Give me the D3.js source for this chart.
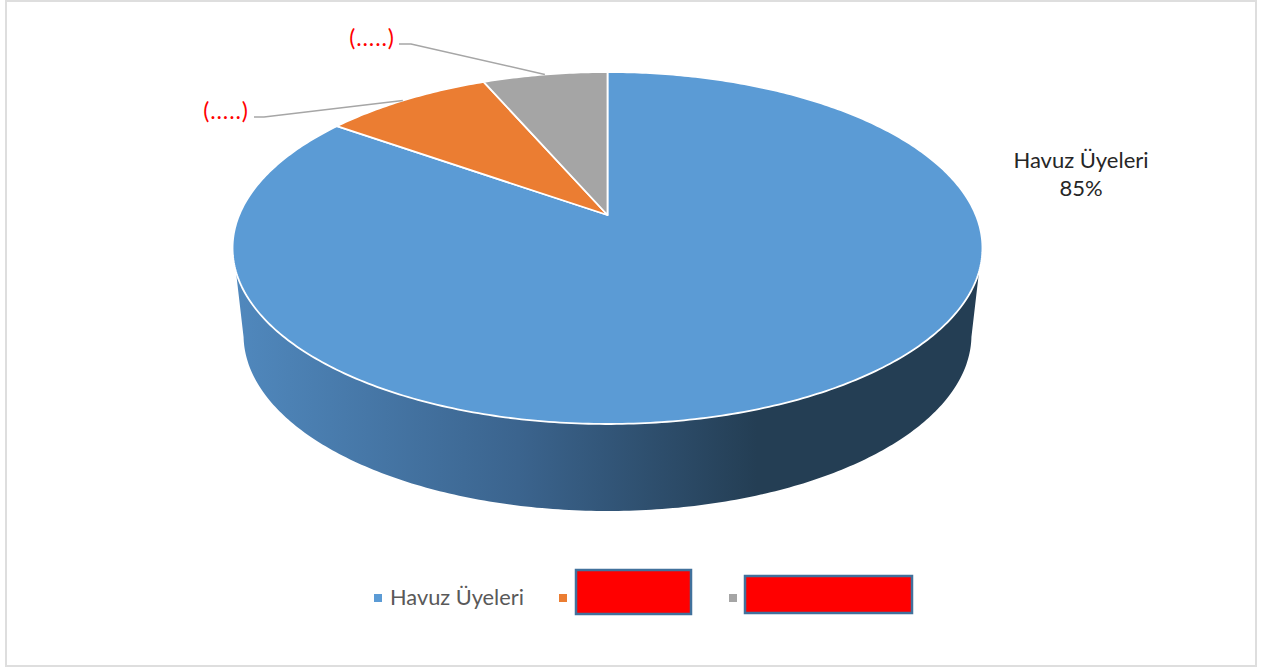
<!DOCTYPE html>
<html><head><meta charset="utf-8">
<script src="https://cdn.jsdelivr.net/npm/d3@7"></script>
<style>html,body{margin:0;padding:0;background:#fff}svg{display:block}text{font-family:Lato,"Open Sans",sans-serif}</style>
</head><body><svg id="c" width="1262" height="669"></svg>
<script>
const categories=["Havuz Üyeleri","(.....)","(.....)"];
const values=[84.85,8.7,6.45];
const colors=["#5B9BD5","#EB7D32","#A5A5A5"];
const sideStops=[["0%","#5088bd"],["38%","#3b648e"],["70%","#243e54"],["100%","#243e54"]];

const svg=d3.select("#c");
svg.append("rect").attr("x",6).attr("y",1).attr("width",1250).attr("height",665).attr("fill","#fff").attr("stroke","#dedede").attr("stroke-width",2);

// perspective projection of the pie's unit circle
const cx=607.5, apexY=215, k=0.1875, A=169.8, B=368.3, depth=87, shrink=364/375;
const uScale=d3.scaleLinear().domain([-1,1]).range([cx-B,cx+B]);
const vScale=d3.scaleLinear().domain([-1,1]).range([apexY+A,apexY-A]);
function proj(a,base){
  const u=Math.sin(a),v=Math.cos(a),w=1+k*v;
  let x=uScale(u/w),y=vScale(v/w);
  if(base){x=cx+(x-cx)*shrink;y=y+depth;}
  return [x,y];
}
const line=d3.line();
const pie=d3.pie().sort(null).value(d=>d);
const arcs=pie(values);
function sample(a0,a1,base){const n=Math.max(2,Math.ceil(Math.abs(a1-a0)*80));
  return d3.range(n+1).map(i=>proj(a0+(a1-a0)*i/n,base));}

// side wall
const defs=svg.append("defs");
const g=defs.append("linearGradient").attr("id","side").attr("gradientUnits","userSpaceOnUse").attr("x1",235).attr("x2",980).attr("y1",0).attr("y2",0);
sideStops.forEach(s=>g.append("stop").attr("offset",s[0]).attr("stop-color",s[1]));
const topBend=0.32, baseBend=0.2; // where the wall's straight ends meet the two rims
const outer=sample(Math.PI*0.5+topBend,Math.PI*1.5-topBend,false)
  .concat(sample(Math.PI*1.5-baseBend,Math.PI*0.5+baseBend,true));
svg.append("path").attr("d",line(outer)+"Z").attr("fill","url(#side)");

// top slices
svg.selectAll("path.s").data(arcs).join("path").attr("class","s")
  .attr("d",d=>line([[cx,apexY],...sample(d.startAngle,d.endAngle,false)])+"Z")
  .attr("fill",(d,i)=>colors[i]).attr("stroke","#fff").attr("stroke-width",1.8).attr("stroke-linejoin","round");

// leader lines
const leaders=[[1,[254,117],[264,117]],[2,[399,44],[411,44]]];
const hits=[0.48,0.5];
leaders.forEach((l,j)=>{
  const d=arcs[l[0]];
  const p=proj(d.startAngle+(d.endAngle-d.startAngle)*hits[j],false);
  svg.append("path").attr("d",line([l[1],l[2],p])).attr("fill","none").attr("stroke","#a6a6a6").attr("stroke-width",1.5);
});

// labels
const txt=(x,y,s,fill,size,anchor)=>svg.append("text").attr("x",x).attr("y",y).attr("fill",fill).attr("font-size",size).attr("text-anchor",anchor||"middle").text(s);
txt(226,119,categories[1],"#ff0000",23).attr("letter-spacing",0.9);
txt(372,46,categories[2],"#ff0000",23).attr("letter-spacing",0.9);
txt(1081,168,categories[0],"#262626",22);
txt(1081,196,d3.format(".0%")(values[0]/d3.sum(values)),"#262626",22);

// legend
const lx=[374,559,729];
colors.forEach((c,i)=>svg.append("rect").attr("x",lx[i]).attr("y",594).attr("width",8).attr("height",8).attr("fill",c));
txt(390,605,categories[0],"#595959",21.8,"start");
[[576,570,115,44],[745,576,167,37]].forEach(r=>svg.append("rect").attr("x",r[0]).attr("y",r[1]).attr("width",r[2]).attr("height",r[3]).attr("fill","#ff0000").attr("stroke","#41719c").attr("stroke-width",2.5));
</script></body></html>
